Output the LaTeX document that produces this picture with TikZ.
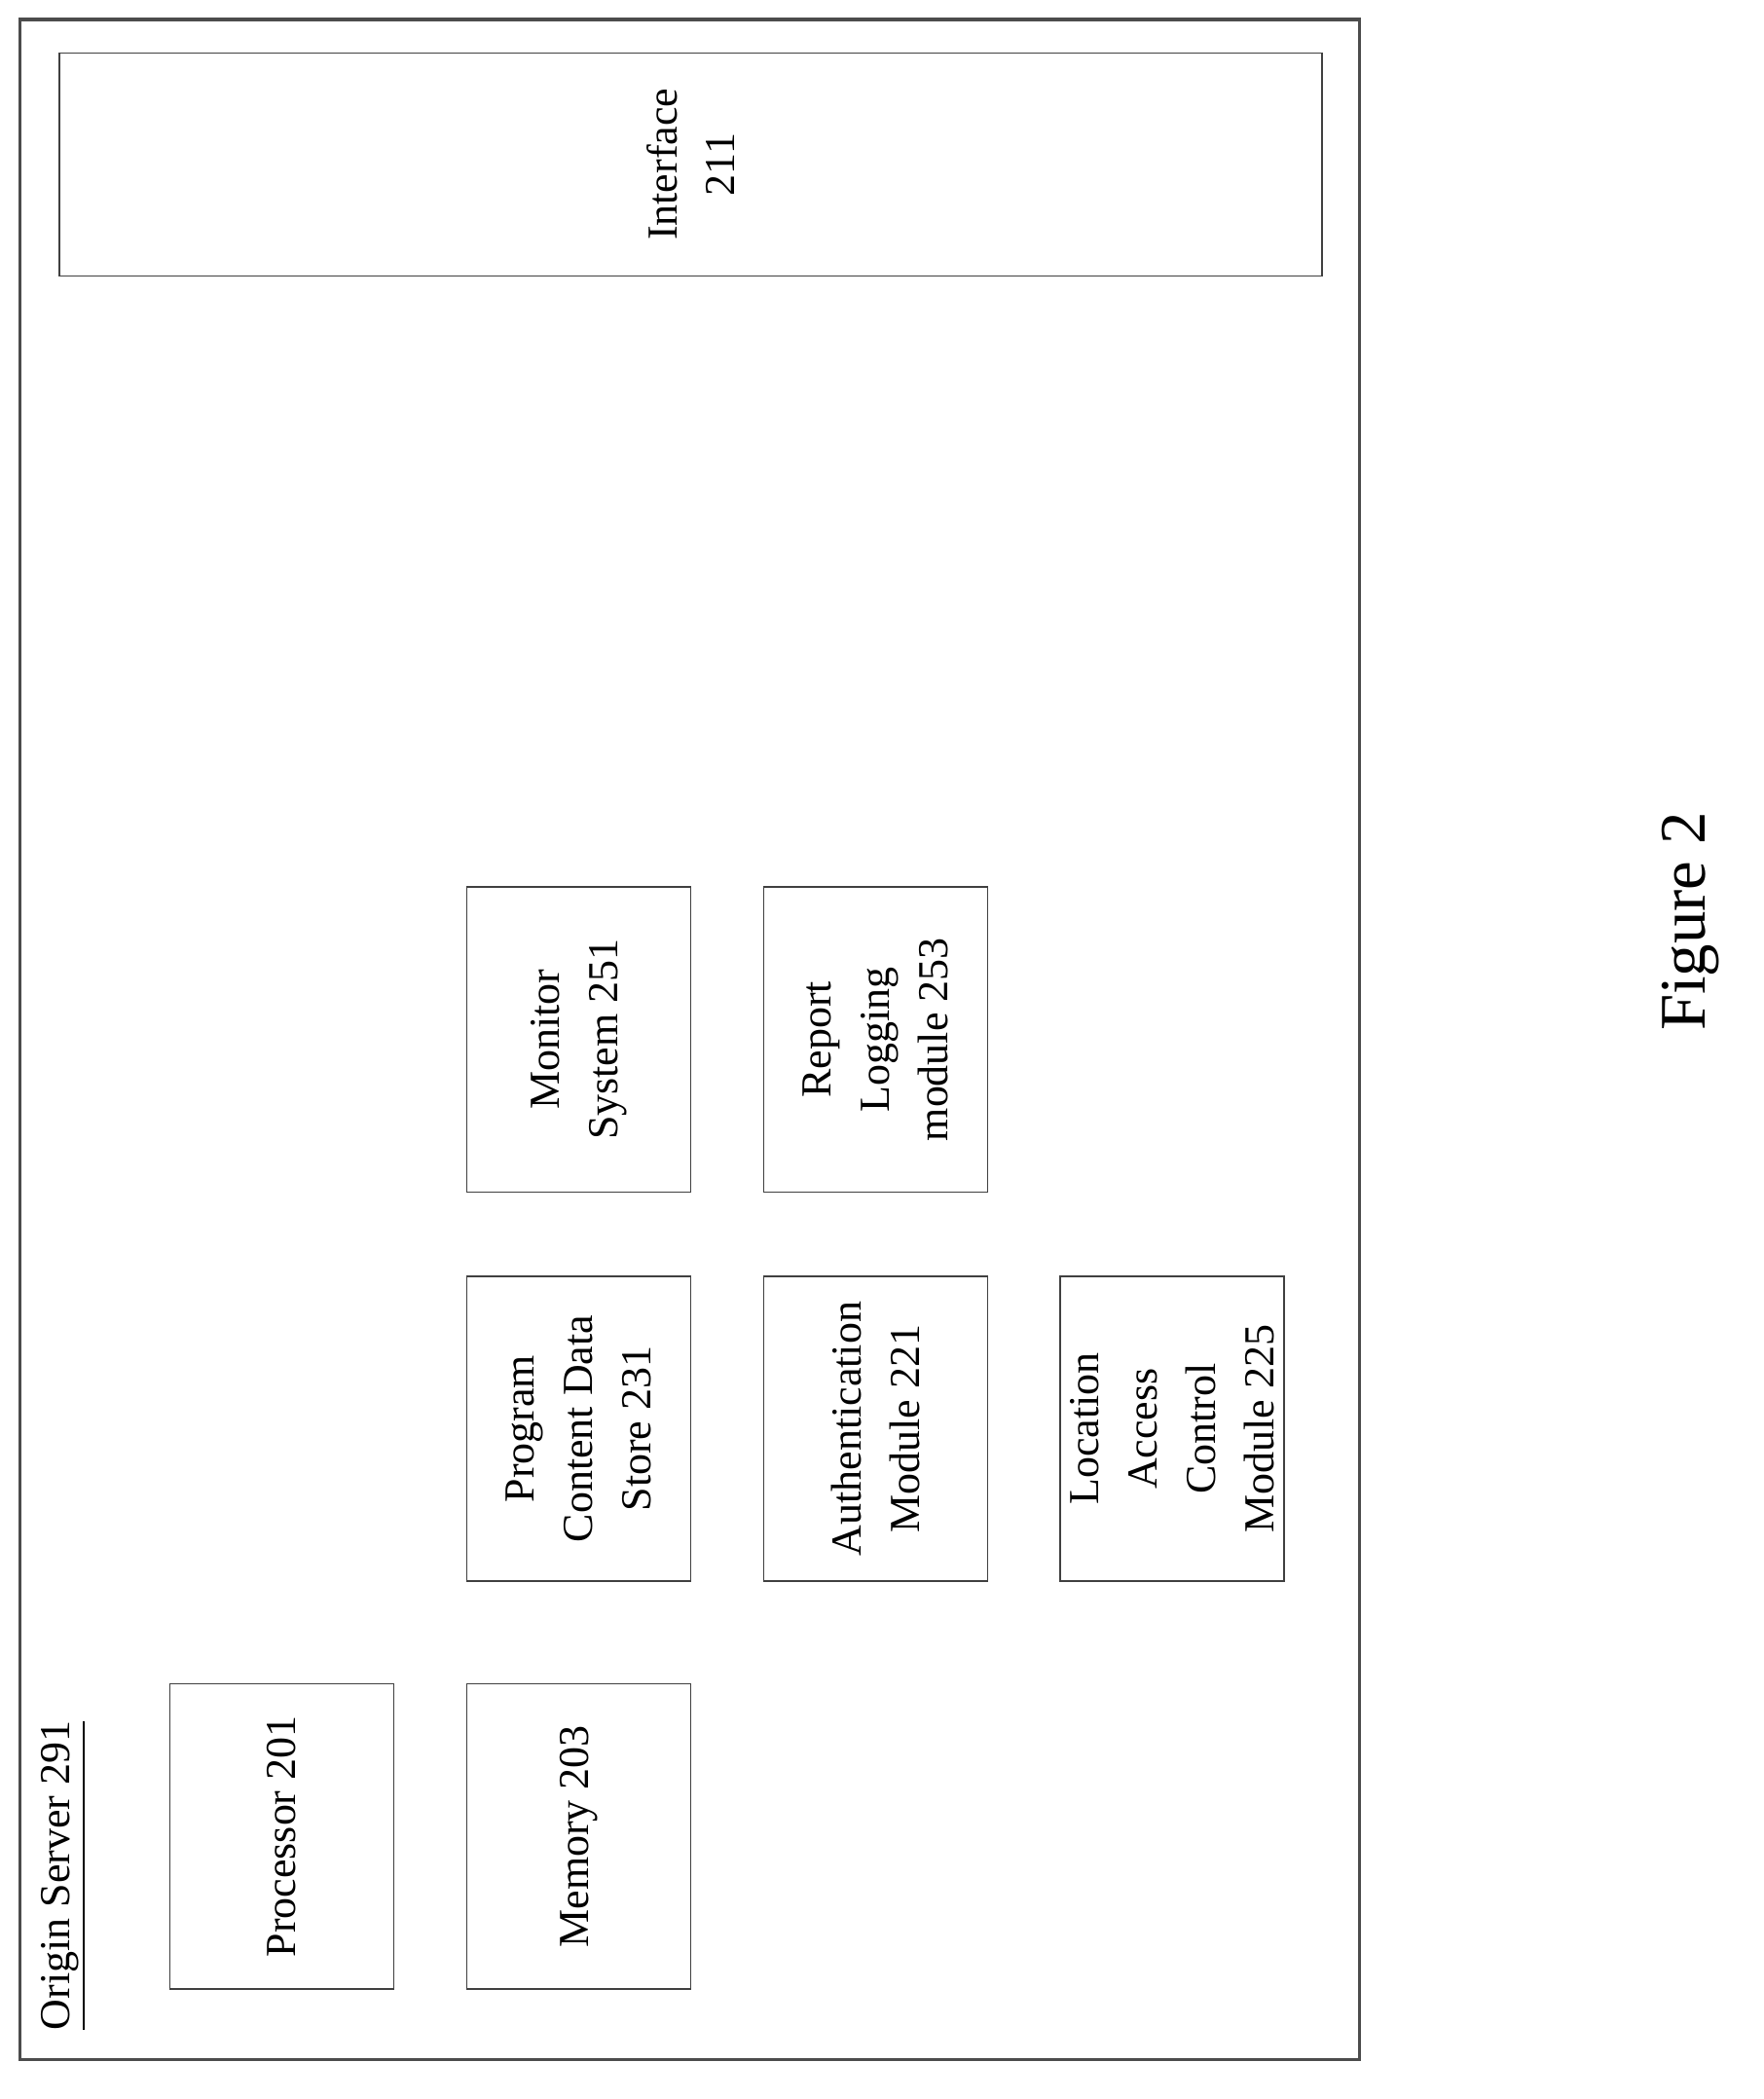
\documentclass[tikz,border=0pt]{standalone}
\usepackage{fontspec}
\setmainfont{Liberation Serif}
\begin{document}
\begin{tikzpicture}[x=0.013617cm, y=-0.013617cm]
	\tikzset{bloc/.style={draw=black!75, rotate=90, minimum width=3.13cm, minimum height=2.30cm, align=center, inner sep=0pt, font=\fontsize{12.5}{17}\selectfont},
		cadre/.style={draw=black!70, line width=0.9pt}};
	\useasboundingbox (0,0) rectangle (1330,1583);
	\node[cadre, minimum width=13.75cm, minimum height=20.94cm] (serveur) at (520,784) {};
	\node[rotate=90, anchor=west, font=\fontsize{12.5}{17}\selectfont] (titre) at (48,1540) {\underline{Origin Server 291}};
	\node[bloc, rotate=-90, minimum width=12.96cm, minimum height=2.29cm] (interface) at (521,124) {};
	\node[rotate=90, align=center, font=\fontsize{12.5}{17}\selectfont] (interfacetxt) at (interface.center) {Interface\\211};

	\node[bloc] (processeur) at (212.5,1385) {Processor 201};
	\node[bloc] (memoire) at (436.5,1385) {Memory 203};
	\node[bloc] (contenu) at (436.5,1077.5) {Program\\Content Data\\Store 231};
	\node[bloc] (moniteur) at (436.5,784) {Monitor\\System 251};
	\node[bloc] (auth) at (660.5,1077.5) {Authentication\\Module 221};
	\node[bloc] (rapport) at (660.5,784) {Report\\Logging\\module 253};
	\node[bloc] (location) at (884,1077.5) {Location\\Access\\Control\\Module 225};

	\node[rotate=90, font=\fontsize{19}{23}\selectfont] (figure) at (1275,695) {Figure 2};
\end{tikzpicture}
\end{document}
